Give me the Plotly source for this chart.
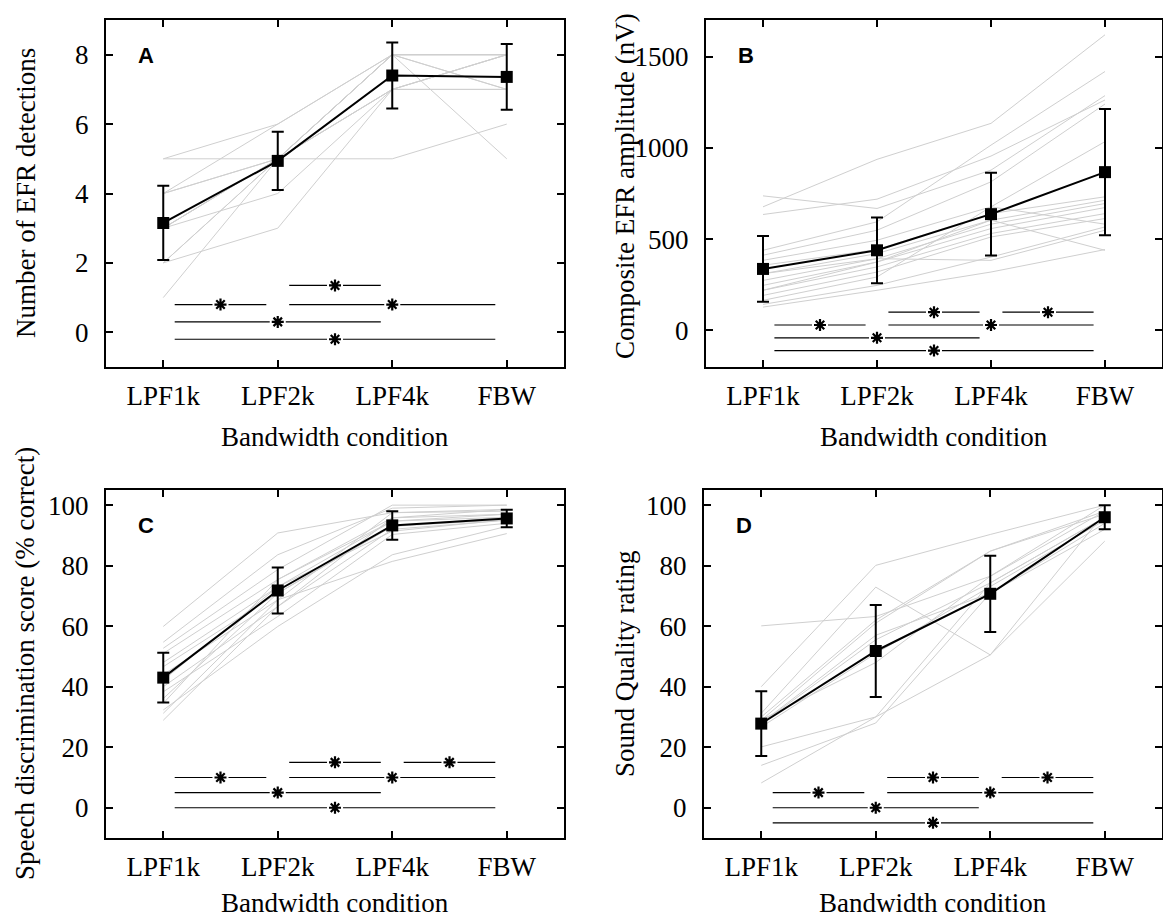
import plotly.graph_objects as go

# ---------------- data ----------------
conditions = ["LPF1k", "LPF2k", "LPF4k", "FBW"]
cond_pos = [1, 2, 3, 4]

# Panel A: Number of EFR detections
a_mean = [3.15, 4.94, 7.40, 7.36]
a_sd = [1.07, 0.84, 0.95, 0.95]
a_subjects = [
    [5, 5, 5, 6], [5, 6, 8, 8], [4, 6, 8, 7], [4, 5, 7, 8], [3, 5, 8, 8],
    [3, 5, 7, 8], [3, 4, 7, 7], [2, 3, 7, 7], [2, 5, 8, 5], [1, 5, 8, 8],
    [3, 5, 8, 8], [4, 5, 8, 7], [2, 5, 7, 8],
]
a_sig_pairs = [(2, 3), (1, 2), (2, 4), (1, 3), (1, 4)]
a_sig_levels = [1.35, 0.8, 0.8, 0.3, -0.2]

# Panel B: Composite EFR amplitude (nV)
b_mean = [337, 439, 637, 867]
b_sd = [180, 180, 227, 345]
b_subjects = [
    [677, 937, 1134, 1619], [737, 668, 878, 1286], [635, 719, 955, 1262],
    [439, 595, 1015, 1418], [412, 549, 814, 1240], [384, 494, 677, 1034],
    [357, 443, 640, 732], [311, 421, 604, 713], [274, 393, 582, 695],
    [247, 375, 558, 673], [220, 348, 531, 640], [192, 320, 512, 613],
    [165, 293, 677, 582], [143, 247, 402, 567], [128, 220, 320, 443],
    [311, 393, 384, 549], [220, 375, 604, 439],
]
b_sig_pairs = [(2, 3), (3, 4), (1, 2), (2, 4), (1, 3), (1, 4)]
b_sig_levels = [100, 100, 30, 30, -40, -110]

# Panel C: Speech discrimination score (% correct)
c_mean = [43.0, 71.8, 93.3, 95.6]
c_sd = [8.2, 7.6, 4.7, 2.9]
c_subjects = [
    [59.9, 90.8, 97.5, 98.6], [54.7, 83.6, 99.0, 100], [52.7, 78.7, 100, 100],
    [51.0, 75.4, 95.8, 98.6], [48.0, 73.0, 94.7, 97.0], [46.6, 70.9, 93.0, 96.0],
    [44.0, 68.7, 97.5, 98.0], [42.2, 73.0, 91.4, 95.2], [40.0, 66.5, 95.8, 97.0],
    [38.3, 63.2, 90.3, 94.0], [36.1, 70.9, 93.0, 95.2], [34.5, 75.4, 94.7, 96.0],
    [32.3, 59.9, 83.6, 93.0], [31.2, 68.7, 81.4, 90.6], [28.9, 66.5, 92.0, 95.0],
]
c_sig_pairs = [(2, 3), (3, 4), (1, 2), (2, 4), (1, 3), (1, 4)]
c_sig_levels = [15, 15, 10, 10, 5, 0]

# Panel D: Sound Quality rating
d_mean = [27.8, 51.8, 70.7, 96.0]
d_sd = [10.7, 15.2, 12.6, 4.0]
d_subjects = [
    [60.1, 63.2, 76.5, 100], [40.0, 80.1, 90.3, 100], [31.2, 72.9, 50.5, 97.5],
    [30.0, 62.0, 84.8, 98.0], [28.9, 61.0, 84.8, 97.0], [27.8, 55.5, 74.3, 96.0],
    [26.7, 51.0, 73.1, 95.0], [28.0, 57.0, 70.9, 94.0], [29.0, 48.0, 76.5, 98.0],
    [20.1, 30.0, 50.5, 88.1], [14.0, 28.0, 70.9, 92.0], [8.2, 30.0, 74.3, 96.0],
]
d_sig_pairs = [(2, 3), (3, 4), (1, 2), (2, 4), (1, 3), (1, 4)]
d_sig_levels = [10, 10, 5, 5, 0, -5]

panels = [
    dict(letter="A", mean=a_mean, sd=a_sd, subj=a_subjects, pairs=a_sig_pairs,
         levels=a_sig_levels, ytitle="Number of EFR detections",
         yrange=[-1, 9], ytick=[0, 2, 4, 6, 8]),
    dict(letter="B", mean=b_mean, sd=b_sd, subj=b_subjects, pairs=b_sig_pairs,
         levels=b_sig_levels, ytitle="Composite EFR amplitude (nV)",
         yrange=[-200, 1700], ytick=[0, 500, 1000, 1500]),
    dict(letter="C", mean=c_mean, sd=c_sd, subj=c_subjects, pairs=c_sig_pairs,
         levels=c_sig_levels, ytitle="Speech discrimination score (% correct)",
         yrange=[-10, 105], ytick=[0, 20, 40, 60, 80, 100]),
    dict(letter="D", mean=d_mean, sd=d_sd, subj=d_subjects, pairs=d_sig_pairs,
         levels=d_sig_levels, ytitle="Sound Quality rating",
         yrange=[-10, 105], ytick=[0, 20, 40, 60, 80, 100]),
]

# ---------------- layout geometry (pixels) ----------------
W, H = 1163, 921
boxes = [  # left, right, top, bottom
    (106, 564, 20, 367),
    (706, 1162, 20, 367),
    (106, 564, 490, 838),
    (704, 1162, 490, 838),
]
ytitle_x = [26, 625, 25, 625]
ytitle_y = [193, 186, 664, 664]
xtitle_y = [437, 437, 903, 903]

SERIF = "Liberation Serif, Times New Roman, serif"
FS = 27
inset = 0.1
gap = 0.07

fig = go.Figure()
layout = dict(
    width=W, height=H, margin=dict(l=0, r=0, t=0, b=0),
    paper_bgcolor="white", plot_bgcolor="white", showlegend=False,
    font=dict(family=SERIF, size=FS, color="black"),
)
annotations = []

for i, p in enumerate(panels):
    n = "" if i == 0 else str(i + 1)
    xa, ya = "x" + n, "y" + n
    L, R, T, B = boxes[i]

    for s in p["subj"]:
        fig.add_trace(go.Scatter(x=cond_pos, y=s, mode="lines", xaxis=xa, yaxis=ya,
                                 line=dict(color="#cfcfcf", width=1), hoverinfo="skip"))

    sx, sy, ax_, ay_ = [], [], [], []
    for (c1, c2), lev in zip(p["pairs"], p["levels"]):
        mid = (c1 + c2) / 2
        sx += [c1 + inset, mid - gap, None, mid + gap, c2 - inset, None]
        sy += [lev, lev, None, lev, lev, None]
        ax_.append(mid)
        ay_.append(lev)
    fig.add_trace(go.Scatter(x=sx, y=sy, mode="lines", xaxis=xa, yaxis=ya,
                             line=dict(color="black", width=1.2), hoverinfo="skip"))
    fig.add_trace(go.Scatter(x=ax_, y=ay_, mode="markers", xaxis=xa, yaxis=ya,
                             marker=dict(symbol="asterisk-open", size=10, color="black",
                                         line=dict(color="black", width=2.2)),
                             hoverinfo="skip"))

    fig.add_trace(go.Scatter(x=cond_pos, y=p["mean"], mode="lines+markers",
                             xaxis=xa, yaxis=ya,
                             line=dict(color="black", width=2),
                             marker=dict(symbol="square", size=12, color="black"),
                             error_y=dict(type="data", array=p["sd"], visible=True,
                                          color="black", thickness=2, width=6)))

    layout["xaxis" + n] = dict(
        domain=[L / W, R / W], range=[0.5, 4.5], anchor=ya,
        tickvals=cond_pos, ticktext=conditions,
        ticks="inside", ticklen=7, tickwidth=2, tickcolor="black",
        showline=True, linewidth=2, linecolor="black", mirror="ticks",
        showgrid=False, zeroline=False, ticklabelstandoff=4,
        tickfont=dict(family=SERIF, size=FS, color="black"),
    )
    layout["yaxis" + n] = dict(
        domain=[1 - B / H, 1 - T / H], range=p["yrange"], anchor=xa,
        tickvals=p["ytick"],
        ticks="inside", ticklen=7, tickwidth=2, tickcolor="black",
        showline=True, linewidth=2, linecolor="black", mirror="ticks",
        showgrid=False, zeroline=False, ticklabelstandoff=10,
        tickfont=dict(family=SERIF, size=FS, color="black"),
    )

    annotations.append(dict(
        text="<b>" + p["letter"] + "</b>", xref=xa + " domain", yref=ya + " domain",
        x=30 / (R - L), y=1 - 35 / (B - T), xanchor="left", yanchor="middle",
        showarrow=False, font=dict(family="Liberation Sans, Arial, sans-serif",
                                   size=22, color="black")))
    annotations.append(dict(
        text="Bandwidth condition", xref="paper", yref="paper",
        x=(L + R) / 2 / W, y=1 - xtitle_y[i] / H, xanchor="center", yanchor="middle",
        showarrow=False, font=dict(family=SERIF, size=FS, color="black")))
    annotations.append(dict(
        text=p["ytitle"], xref="paper", yref="paper", textangle=-90,
        x=ytitle_x[i] / W, y=1 - ytitle_y[i] / H, xanchor="center", yanchor="middle",
        showarrow=False, font=dict(family=SERIF, size=FS, color="black")))

layout["annotations"] = annotations
fig.update_layout(**layout)
fig.write_html("out.html")
